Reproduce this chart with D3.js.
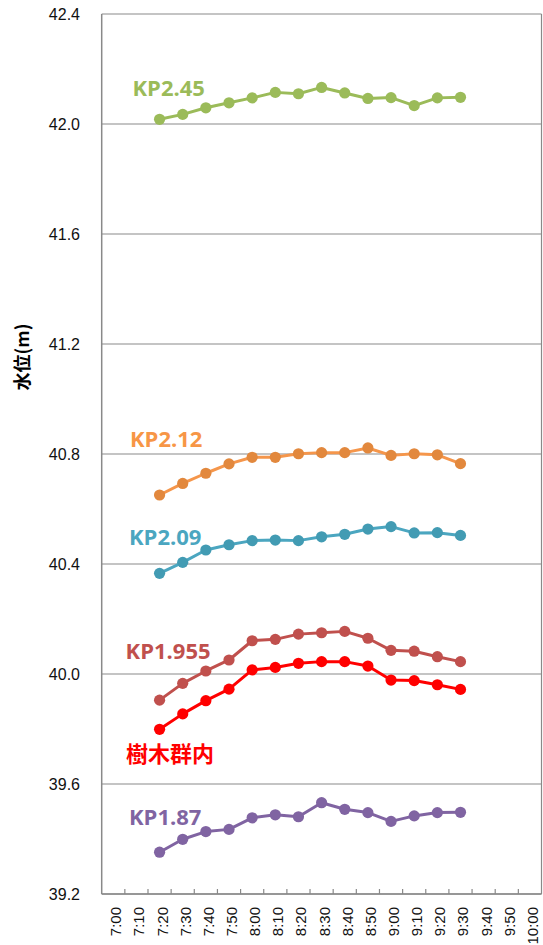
<!DOCTYPE html>
<html><head><meta charset="utf-8">
<script src="https://cdn.jsdelivr.net/npm/d3@7"></script>
<style>body{margin:0;background:#fff}svg{display:block}</style>
</head><body>
<svg id="c" width="543" height="945"></svg>
<script>
const categories = ["7:00","7:10","7:20","7:30","7:40","7:50","8:00","8:10","8:20","8:30","8:40","8:50","9:00","9:10","9:20","9:30","9:40","9:50","10:00"];
const times = ["7:20","7:30","7:40","7:50","8:00","8:10","8:20","8:30","8:40","8:50","9:00","9:10","9:20","9:30"];
const yTicks = [39.2,39.6,40.0,40.4,40.8,41.2,41.6,42.0,42.4];
const kp245  = [42.017,42.035,42.059,42.077,42.095,42.115,42.110,42.133,42.113,42.093,42.096,42.067,42.095,42.097];
const kp212  = [40.651,40.693,40.730,40.764,40.788,40.788,40.801,40.805,40.805,40.822,40.795,40.801,40.797,40.765];
const kp209  = [40.366,40.406,40.451,40.470,40.485,40.487,40.485,40.499,40.508,40.527,40.536,40.513,40.514,40.504];
const kp1955 = [39.905,39.966,40.011,40.051,40.121,40.126,40.145,40.150,40.155,40.130,40.086,40.083,40.063,40.045];
const jumoku = [39.799,39.855,39.903,39.945,40.015,40.024,40.039,40.045,40.045,40.029,39.978,39.976,39.961,39.944];
const kp187  = [39.352,39.399,39.427,39.435,39.477,39.488,39.481,39.532,39.508,39.496,39.464,39.484,39.496,39.497];
const seriesNames = ["KP2.45","KP2.12","KP2.09","KP1.955","樹木群内","KP1.87"];

const series = [
  {name:seriesNames[0], values:kp245,  line:"#9BBB59", mark:"#9BBB59", lx:132.5, ly:96},
  {name:seriesNames[1], values:kp212,  line:"#F5964B", mark:"#E2883D", lx:130,   ly:447},
  {name:seriesNames[2], values:kp209,  line:"#4BA6C0", mark:"#429BB3", lx:129,   ly:545},
  {name:seriesNames[3], values:kp1955, line:"#C0504D", mark:"#C0504D", lx:125.6, ly:659},
  {name:seriesNames[4], values:jumoku, line:"#FF0000", mark:"#FF0000", lx:126,   ly:761.5},
  {name:seriesNames[5], values:kp187,  line:"#8064A2", mark:"#8064A2", lx:129,   ly:825}
];

const svg = d3.select("#c");
const L = 101.7, R = 541.5, T = 14, B = 894;
const x = d3.scaleBand().domain(categories).range([L, R]);
const y = d3.scaleLinear().domain([39.2, 42.4]).range([B, T]);
const cx = t => x(t) + x.bandwidth()/2;
const grey = "#898989";

// gridlines
svg.append("g").selectAll("line").data(yTicks).join("line")
  .attr("x1", L).attr("x2", R).attr("y1", d=>y(d)).attr("y2", d=>y(d))
  .attr("stroke", grey).attr("stroke-width", 1.2);
// right border
svg.append("line").attr("x1", R).attr("x2", R).attr("y1", T).attr("y2", B)
  .attr("stroke", grey).attr("stroke-width", 1.2);
// left axis line
svg.append("line").attr("x1", L).attr("x2", L).attr("y1", T).attr("y2", B)
  .attr("stroke", grey).attr("stroke-width", 1.5);

// y tick labels
svg.append("g").selectAll("text").data(yTicks).join("text")
  .attr("x", 80).attr("y", d=>y(d)+5.7).attr("text-anchor","end")
  .attr("font-family","'Liberation Sans', Arial, sans-serif").attr("font-size",16)
  .attr("fill","#111").text(d=>d.toFixed(1));

// x axis (ticks inward)
const xAxis = svg.append("g").attr("transform", `translate(0,${B})`);
xAxis.append("line").attr("x1", L).attr("x2", R).attr("stroke", grey).attr("stroke-width",1.5);
xAxis.selectAll("line.t").data(categories.slice(1)).join("line").attr("class","t")
  .attr("x1", d=>x(d)).attr("x2", d=>x(d)).attr("y1",0).attr("y2",-5)
  .attr("stroke", grey).attr("stroke-width",1.2);
xAxis.selectAll("text").data(categories).join("text")
  .attr("transform", d=>`translate(${cx(d)+8},13) rotate(-90)`)
  .attr("text-anchor","end")
  .attr("font-family","'Liberation Sans', Arial, sans-serif").attr("font-size",15)
  .attr("fill","#111").text(d=>d);

// y axis title
svg.append("text").attr("transform","translate(29,357) rotate(-90)")
  .attr("text-anchor","middle").attr("font-family","'Noto Sans CJK JP', sans-serif")
  .attr("font-weight","bold").attr("font-size",18).attr("fill","#000").text("水位(m)");

// series
const line = d3.line().x((d,i)=>cx(times[i])).y(d=>y(d));
series.forEach(s=>{
  const g = svg.append("g");
  g.append("path").attr("d", line(s.values)).attr("fill","none")
    .attr("stroke", s.line).attr("stroke-width",3).attr("stroke-linejoin","round");
  g.selectAll("circle").data(s.values).join("circle")
    .attr("cx",(d,i)=>cx(times[i])).attr("cy",d=>y(d)).attr("r",5.6).attr("fill",s.mark);
  g.append("text").attr("x", s.lx).attr("y", s.ly)
    .attr("font-family", s.name.startsWith("KP") ? "'Open Sans', sans-serif" : "'Noto Sans CJK JP', sans-serif")
    .attr("font-weight","bold").attr("font-size", 22).attr("fill", s.line === "#F5964B" ? "#F79646" : s.line)
    .text(s.name);
});
</script>
</body></html>
